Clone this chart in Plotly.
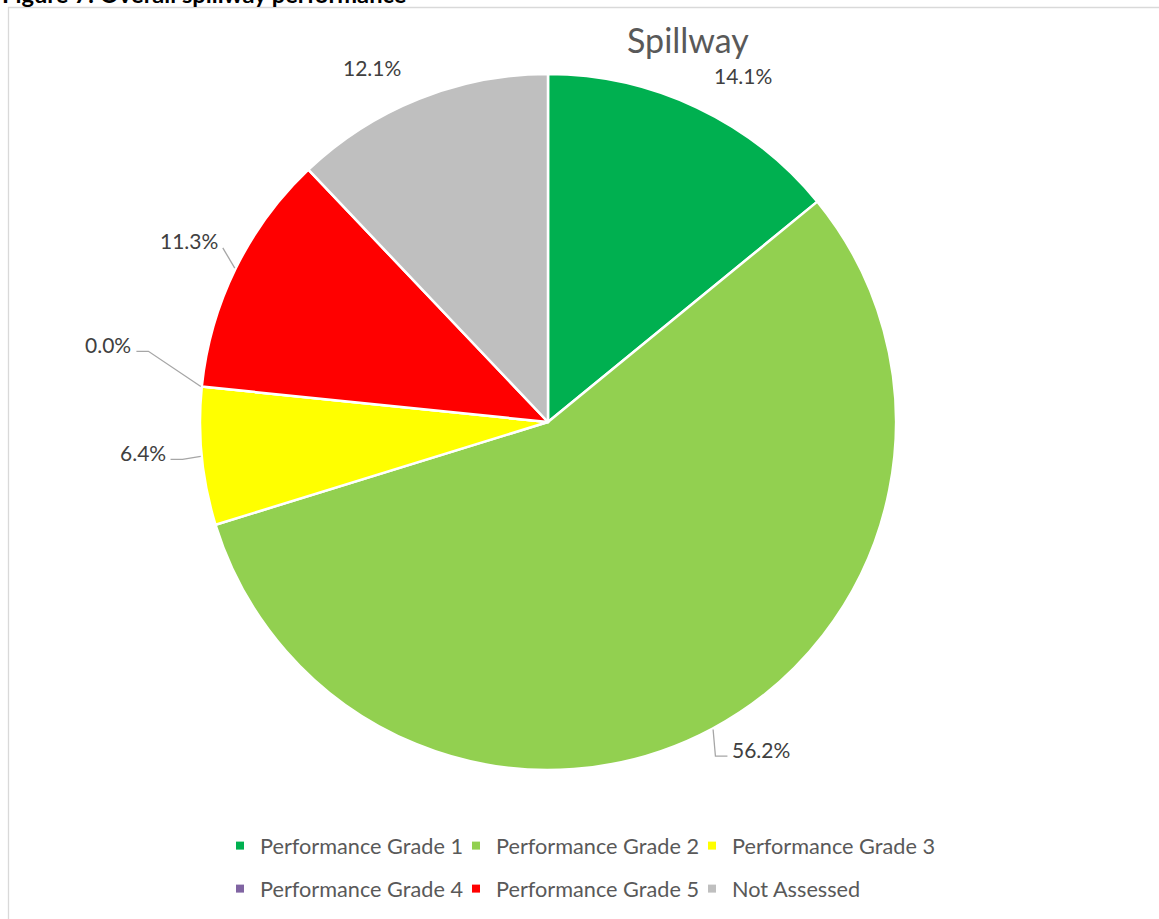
import math
import plotly.graph_objects as go

# ---------------- data ----------------
categories = ["Performance Grade 1", "Performance Grade 2", "Performance Grade 3",
              "Performance Grade 4", "Performance Grade 5", "Not Assessed"]
values = [14.1, 56.2, 6.4, 0.0, 11.3, 12.1]
label_texts = ["14.1%", "56.2%", "6.4%", "0.0%", "11.3%", "12.1%"]
chart_title = "Spillway"
figure_caption = "Figure 7: Overall spillway performance"

# ---------------- style ----------------
colors = ["#00B050", "#92D050", "#FFFF00", "#8064A2", "#FF0000", "#BFBFBF"]
label_radius = [1.143, 1.09, 1.09, 1.20, 1.06, 1.136]     # label anchor, in pie radii
label_turn = [4.0, 0.0, 0.0, 3.9, 2.0, -4.6]               # degrees off the slice mid-angle
leader_style = [None, "elbow", "elbow", "elbow", "straight", None]
legend_cols_px = [220, 456, 692]      # left edge of each legend column
legend_rows_px = [846, 889]           # vertical centre of each legend row
FONT = "Lato"
W, H = 1159, 919
CX, CY, R = 548, 422, 348          # pie centre / radius in px


def px(x):
    return x / W


def py(y):
    return 1 - y / H


fig = go.Figure()

fig.add_trace(go.Pie(
    labels=categories, values=values, sort=False, direction="clockwise", rotation=0,
    marker=dict(colors=colors, line=dict(color="white", width=2.5)),
    textinfo="none", hoverinfo="label+percent", showlegend=False,
    domain=dict(x=[px(CX - R), px(CX + R)], y=[py(CY + R), py(CY - R)]),
))

# legend entries: one small legend per entry, laid out in a 3 x 2 grid
legend_layouts = {}
for i, (cat, col) in enumerate(zip(categories, colors)):
    lname = "legend" if i == 0 else f"legend{i + 1}"
    fig.add_trace(go.Scatter(
        x=[None], y=[None], mode="markers", name=cat,
        marker=dict(symbol="square", size=8, color=col),
        legend=lname, hoverinfo="skip",
    ))
    legend_layouts[lname] = dict(
        x=px(legend_cols_px[i % 3]), y=py(legend_rows_px[i // 3]),
        orientation="h", xanchor="left", yanchor="middle",
        font=dict(family=FONT, size=21.7, color="#595959"),
        itemclick=False, bgcolor="rgba(0,0,0,0)", itemwidth=30,
    )

# data labels and leader lines computed from the slice angles
total = sum(values)
cum = 0.0
annotations = []
shapes = []
for v, txt, rf, turn, ls in zip(values, label_texts, label_radius, label_turn, leader_style):
    mid = (cum + v / 2) / total * 2 * math.pi
    cum += v
    la = mid + math.radians(turn)
    ax, ay = CX + R * rf * math.sin(la), CY - R * rf * math.cos(la)
    if ls is None:
        annotations.append(dict(x=px(ax), y=py(ay), text=txt, showarrow=False,
                                xref="paper", yref="paper", xanchor="center", yanchor="middle",
                                font=dict(family=FONT, size=21, color="#404040")))
        continue
    left = math.sin(la) < 0
    annotations.append(dict(x=px(ax + (-3 if left else 3)), y=py(ay - 7), text=txt, showarrow=False,
                            xref="paper", yref="paper", xanchor="right" if left else "left",
                            yanchor="middle", font=dict(family=FONT, size=21, color="#404040")))
    ex, ey = CX + (R + 1) * math.sin(mid), CY - (R + 1) * math.cos(mid)
    if ls == "elbow":
        bx = ax + (12 if left else -12)
        path = f"M {px(ax)} {py(ay)} L {px(bx)} {py(ay)} L {px(ex)} {py(ey)}"
    else:
        path = f"M {px(ax)} {py(ay)} L {px(ex)} {py(ey)}"
    shapes.append(dict(type="path", path=path, xref="paper", yref="paper",
                       line=dict(color="#A6A6A6", width=1.3)))

# chart title
annotations.append(dict(x=px(688), y=py(40), text=chart_title, showarrow=False,
                        xref="paper", yref="paper", xanchor="center", yanchor="middle",
                        font=dict(family=FONT, size=34, color="#595959")))
# cut-off figure caption at the very top
annotations.append(dict(x=0, y=py(-6), text=f"<b>{figure_caption}</b>", showarrow=False,
                        xref="paper", yref="paper", xanchor="left", yanchor="middle",
                        font=dict(family=FONT, size=23.7, color="#000000")))

# chart border
shapes.append(dict(type="rect", xref="paper", yref="paper",
                   x0=px(8.5), x1=px(W + 20), y0=py(H + 20), y1=py(7.5),
                   line=dict(color="#D9D9D9", width=1.3), fillcolor="rgba(0,0,0,0)", layer="below"))

fig.update_layout(
    width=W, height=H,
    margin=dict(l=0, r=0, t=0, b=0),
    paper_bgcolor="white", plot_bgcolor="white",
    xaxis=dict(visible=False), yaxis=dict(visible=False),
    annotations=annotations, shapes=shapes,
    font=dict(family=FONT),
    **legend_layouts,
)

fig.write_html("out.html", config={"displayModeBar": False},
               post_script="document.body.style.margin='0';document.body.style.overflow='hidden';")
